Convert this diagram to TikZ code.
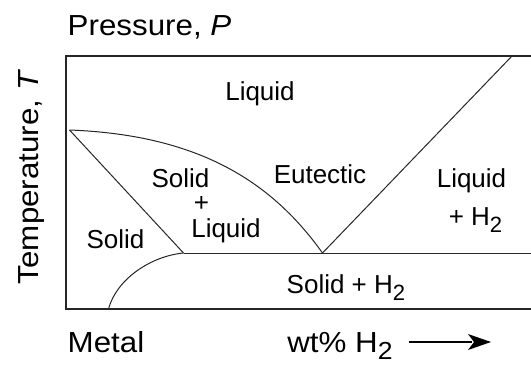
\documentclass[tikz,border=0pt]{standalone}
\usepackage{fontspec}
\setmainfont{Liberation Sans}
\newfontfamily\bigfont[FakeStretch=1.08]{Liberation Sans}
\usetikzlibrary{arrows.meta}
\newcommand{\subtwo}{\raisebox{-0.3em}{\scalebox{0.85}{2}}}
\newcommand{\bigsubtwo}{\raisebox{-0.25em}{\scalebox{0.85}{2}}}
\tikzset{
  biglabel/.style={font=\bigfont\fontsize{29}{30}\selectfont, inner sep=0pt, anchor=base},
  phaselabel/.style={font=\fontsize{26}{27}\selectfont, inner sep=0pt, anchor=base},
  frame/.style={line width=1.3pt, black!85},
  boundary/.style={line width=1pt, black!85},
}
\begin{document}
\begin{tikzpicture}[x=1pt,y=-1pt]
\useasboundingbox (0,0) rectangle (531,365);
% frame corners
\coordinate (TL) at (66,56);
\coordinate (BL) at (66,309);
\coordinate (TR) at (540,56);
\coordinate (BR) at (540,309);
% phase points
\coordinate (melt) at (69.5,130);
\coordinate (peri) at (183.5,253);
\coordinate (eut) at (322.5,253);
\coordinate (top) at (512,56);
\coordinate (solbot) at (108.5,309);
\coordinate (rightend) at (540,253);
\begin{scope}
\clip (0,0) rectangle (531,365);
\draw[frame] (TR) -- (TL) -- (BL) -- (BR);
\draw[boundary] (melt) .. controls (203,135) and (274,185) .. (eut);
\draw[boundary] (melt) -- (peri);
\draw[boundary] (peri) -- (rightend);
\draw[boundary] (eut) -- (top);
\draw[boundary] (solbot) .. controls (117,278) and (152,256) .. (peri);
\end{scope}
% axis labels
\node[biglabel, anchor=base west] (pres) at (67.5,35) {Pressure, \textit{P}};
\node[biglabel, rotate=90] (temp) at (38,177) {Temperature, \textit{T}};
\node[biglabel, anchor=base west] (metal) at (67.5,352) {Metal};
\node[biglabel] (wt) at (340,352) {wt\% H\bigsubtwo};
\coordinate (arrA) at (409,342);
\coordinate (arrN) at (472,342);
\coordinate (arrB) at (491,342);
\draw[line width=1.1pt] (arrA) -- (arrN);
\fill (arrB) -- ++(-23,-8) -- ++(6,8) -- ++(-6,8) -- cycle;
% phase labels
\node[phaselabel] (liq) at (260,100) {Liquid};
\node[phaselabel] (sl1) at (180.5,187) {Solid};
\node[phaselabel] (sl2) at (201.5,211) {+};
\node[phaselabel] (sl3) at (226,237) {Liquid};
\node[phaselabel] (eutl) at (320,183) {Eutectic};
\node[phaselabel] (lh1) at (471.5,187) {Liquid};
\node[phaselabel] (lh2) at (475.5,225) {+ H\subtwo};
\node[phaselabel] (sol) at (115.5,248) {Solid};
\node[phaselabel] (sh) at (346,293) {Solid + H\subtwo};
\end{tikzpicture}
\end{document}
